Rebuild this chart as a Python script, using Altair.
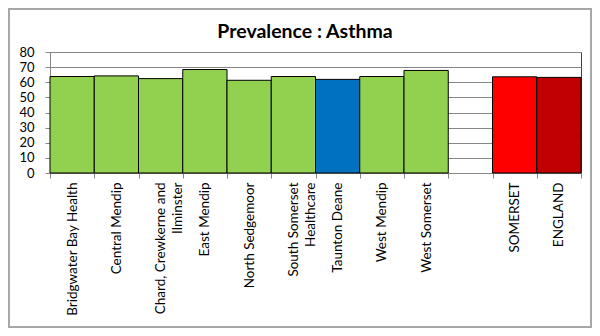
import altair as alt
import pandas as pd

categories = ["Bridgwater Bay Health", "Central Mendip", "Chard, Crewkerne and|Ilminster",
              "East Mendip", "North Sedgemoor", "South Somerset|Healthcare", "Taunton Deane",
              "West Mendip", "West Somerset", " ", "SOMERSET", "ENGLAND"]
values = [63.8, 64.2, 62.4, 68.4, 61.3, 63.8, 61.9, 63.8, 67.8, None, 63.6, 63.2]
colors = ["#92D050", "#92D050", "#92D050", "#92D050", "#92D050", "#92D050", "#0070C0",
          "#92D050", "#92D050", "#FFFFFF", "#FF0000", "#C00000"]
title_text = ["Prevalence : Asthma"]

df = pd.DataFrame({"cat": categories, "value": values, "color": colors})
tdf = pd.DataFrame({"t": title_text})

FONT = "Lato"

bars = alt.Chart(df).mark_bar(stroke="#000000", strokeWidth=1, clip=False).encode(
    x=alt.X("cat:N", sort=categories,
            scale=alt.Scale(domain=categories, paddingInner=0, paddingOuter=0),
            axis=alt.Axis(title=None, labelAngle=-90, labelExpr="split(datum.label, '|')",
                          tickBand="extent", tickSize=5, tickColor="#868686",
                          domainColor="#868686", labelPadding=4, labelFontSize=13.5,
                          labelColor="#000000", labelFont=FONT, labelLineHeight=17,
                          labelLimit=250)),
    y=alt.Y("value:Q", scale=alt.Scale(domain=[0, 80]),
            axis=alt.Axis(title=None, values=[0, 10, 20, 30, 40, 50, 60, 70, 80],
                          tickSize=5, tickColor="#868686", domainColor="#868686",
                          gridColor="#868686", gridWidth=1, labelFontSize=13,
                          labelColor="#000000", labelFont=FONT, labelPadding=11)),
    fill=alt.Fill("color:N", scale=None),
)

border = alt.Chart(df).mark_rect(fill=None, stroke="#A6A6A6", strokeWidth=1.5, clip=False).encode(
    x=alt.value(-41.5), x2=alt.value(541.5), y=alt.value(-43.5), y2=alt.value(275.5)
)

title = alt.Chart(tdf).mark_text(font=FONT, fontSize=19.5, fontWeight="bold", color="#000000",
                                 align="center", baseline="middle").encode(
    text="t:N", x=alt.value(255), y=alt.value(-20)
)

chart = alt.layer(border, bars, title).properties(
    width=531, height=121,
    autosize=alt.AutoSizeParams(type="none"),
    padding={"left": 42, "top": 44, "right": 11, "bottom": 155},
).configure_view(stroke="#404040", strokeWidth=1)

chart.save("out.html", embed_options={"renderer": "svg", "actions": False})
